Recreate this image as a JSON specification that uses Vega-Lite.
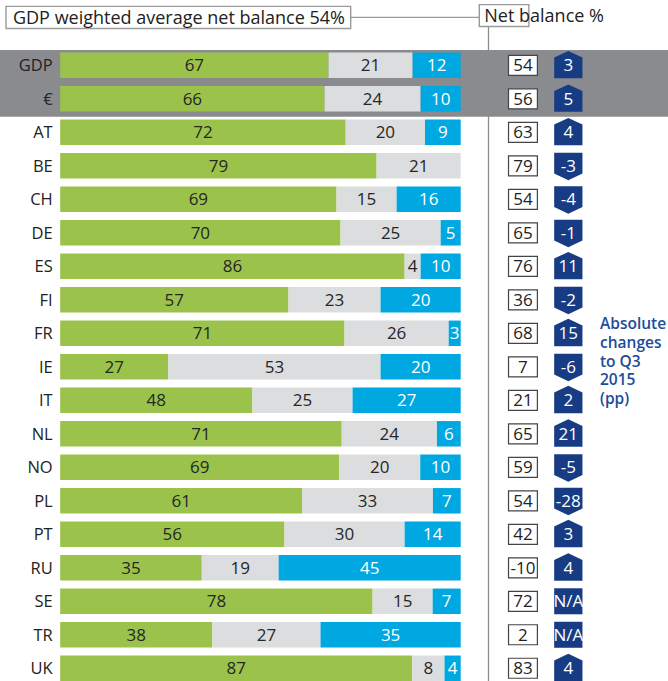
{
  "$schema": "https://vega.github.io/schema/vega-lite/v6.json",
  "width": 668,
  "height": 681,
  "padding": 0,
  "autosize": {"type": "none"},
  "background": "white",
  "config": {"view": {"stroke": null}, "font": "Open Sans"},
  "datasets": {
    "shares": [
      {"country": "GDP", "answer": "Up", "pct": 67}, {"country": "GDP", "answer": "Same", "pct": 21}, {"country": "GDP", "answer": "Down", "pct": 12},
      {"country": "€", "answer": "Up", "pct": 66}, {"country": "€", "answer": "Same", "pct": 24}, {"country": "€", "answer": "Down", "pct": 10},
      {"country": "AT", "answer": "Up", "pct": 72}, {"country": "AT", "answer": "Same", "pct": 20}, {"country": "AT", "answer": "Down", "pct": 9},
      {"country": "BE", "answer": "Up", "pct": 79}, {"country": "BE", "answer": "Same", "pct": 21},
      {"country": "CH", "answer": "Up", "pct": 69}, {"country": "CH", "answer": "Same", "pct": 15}, {"country": "CH", "answer": "Down", "pct": 16},
      {"country": "DE", "answer": "Up", "pct": 70}, {"country": "DE", "answer": "Same", "pct": 25}, {"country": "DE", "answer": "Down", "pct": 5},
      {"country": "ES", "answer": "Up", "pct": 86}, {"country": "ES", "answer": "Same", "pct": 4}, {"country": "ES", "answer": "Down", "pct": 10},
      {"country": "FI", "answer": "Up", "pct": 57}, {"country": "FI", "answer": "Same", "pct": 23}, {"country": "FI", "answer": "Down", "pct": 20},
      {"country": "FR", "answer": "Up", "pct": 71}, {"country": "FR", "answer": "Same", "pct": 26}, {"country": "FR", "answer": "Down", "pct": 3},
      {"country": "IE", "answer": "Up", "pct": 27}, {"country": "IE", "answer": "Same", "pct": 53}, {"country": "IE", "answer": "Down", "pct": 20},
      {"country": "IT", "answer": "Up", "pct": 48}, {"country": "IT", "answer": "Same", "pct": 25}, {"country": "IT", "answer": "Down", "pct": 27},
      {"country": "NL", "answer": "Up", "pct": 71}, {"country": "NL", "answer": "Same", "pct": 24}, {"country": "NL", "answer": "Down", "pct": 6},
      {"country": "NO", "answer": "Up", "pct": 69}, {"country": "NO", "answer": "Same", "pct": 20}, {"country": "NO", "answer": "Down", "pct": 10},
      {"country": "PL", "answer": "Up", "pct": 61}, {"country": "PL", "answer": "Same", "pct": 33}, {"country": "PL", "answer": "Down", "pct": 7},
      {"country": "PT", "answer": "Up", "pct": 56}, {"country": "PT", "answer": "Same", "pct": 30}, {"country": "PT", "answer": "Down", "pct": 14},
      {"country": "RU", "answer": "Up", "pct": 35}, {"country": "RU", "answer": "Same", "pct": 19}, {"country": "RU", "answer": "Down", "pct": 45},
      {"country": "SE", "answer": "Up", "pct": 78}, {"country": "SE", "answer": "Same", "pct": 15}, {"country": "SE", "answer": "Down", "pct": 7},
      {"country": "TR", "answer": "Up", "pct": 38}, {"country": "TR", "answer": "Same", "pct": 27}, {"country": "TR", "answer": "Down", "pct": 35},
      {"country": "UK", "answer": "Up", "pct": 87}, {"country": "UK", "answer": "Same", "pct": 8}, {"country": "UK", "answer": "Down", "pct": 4}
    ],
    "rows": [
      {"country": "GDP", "net": 54, "chg": "3", "dir": "up"},
      {"country": "€", "net": 56, "chg": "5", "dir": "up"},
      {"country": "AT", "net": 63, "chg": "4", "dir": "up"},
      {"country": "BE", "net": 79, "chg": "-3", "dir": "down"},
      {"country": "CH", "net": 54, "chg": "-4", "dir": "down"},
      {"country": "DE", "net": 65, "chg": "-1", "dir": "down"},
      {"country": "ES", "net": 76, "chg": "11", "dir": "up"},
      {"country": "FI", "net": 36, "chg": "-2", "dir": "down"},
      {"country": "FR", "net": 68, "chg": "15", "dir": "up"},
      {"country": "IE", "net": 7, "chg": "-6", "dir": "down"},
      {"country": "IT", "net": 21, "chg": "2", "dir": "up"},
      {"country": "NL", "net": 65, "chg": "21", "dir": "up"},
      {"country": "NO", "net": 59, "chg": "-5", "dir": "down"},
      {"country": "PL", "net": 54, "chg": "-28", "dir": "down"},
      {"country": "PT", "net": 42, "chg": "3", "dir": "up"},
      {"country": "RU", "net": -10, "chg": "4", "dir": "up"},
      {"country": "SE", "net": 72, "chg": "N/A", "dir": "na"},
      {"country": "TR", "net": 2, "chg": "N/A", "dir": "na"},
      {"country": "UK", "net": 83, "chg": "4", "dir": "up"}
    ]
  },
  "layer": [
    {
      "data": {"values": [{}]},
      "mark": {"type": "rect", "color": "#898B8E"},
      "encoding": {
        "x": {"datum": -0.1503, "type": "quantitative", "scale": {"domain": [-0.1503, 1.5176], "nice": false, "zero": false}, "axis": null},
        "x2": {"datum": 1.5176},
        "y": {"datum": "GDP", "type": "nominal", "bandPosition": -0.1, "scale": {"domain": ["header", "GDP", "€", "AT", "BE", "CH", "DE", "ES", "FI", "FR", "IE", "IT", "NL", "NO", "PL", "PT", "RU", "SE", "TR", "UK"], "paddingInner": 0.24, "paddingOuter": 0.285, "align": 1}, "axis": null},
        "y2": {"datum": "€", "bandPosition": 1.2}
      }
    },
    {
      "data": {"values": [{}]},
      "mark": {"type": "rule", "color": "#8C8C8C", "strokeWidth": 1.3},
      "encoding": {
        "x": {"datum": 1.0694, "type": "quantitative", "scale": {"domain": [-0.1503, 1.5176], "nice": false, "zero": false}, "axis": null},
        "y": {"datum": "header", "type": "nominal", "bandPosition": 0.27, "scale": {"domain": ["header", "GDP", "€", "AT", "BE", "CH", "DE", "ES", "FI", "FR", "IE", "IT", "NL", "NO", "PL", "PT", "RU", "SE", "TR", "UK"], "paddingInner": 0.24, "paddingOuter": 0.285, "align": 1}, "axis": null},
        "y2": {"datum": "UK", "bandPosition": 1.3}
      }
    },
    {
      "data": {"values": [{}]},
      "mark": {"type": "rule", "color": "#9A9A9A", "strokeWidth": 1.3},
      "encoding": {
        "x": {"datum": 0.7253, "type": "quantitative", "scale": {"domain": [-0.1503, 1.5176], "nice": false, "zero": false}, "axis": null},
        "x2": {"datum": 1.0464},
        "y": {"datum": "header", "type": "nominal", "bandPosition": -0.07, "scale": {"domain": ["header", "GDP", "€", "AT", "BE", "CH", "DE", "ES", "FI", "FR", "IE", "IT", "NL", "NO", "PL", "PT", "RU", "SE", "TR", "UK"], "paddingInner": 0.24, "paddingOuter": 0.285, "align": 1}, "axis": null}
      }
    },
    {
      "data": {"values": [{}]},
      "mark": {"type": "rect", "fill": "white", "stroke": "#9A9A9A", "strokeWidth": 1.4},
      "encoding": {
        "x": {"datum": -0.1353, "type": "quantitative", "scale": {"domain": [-0.1503, 1.5176], "nice": false, "zero": false}, "axis": null},
        "x2": {"datum": 0.7253},
        "y": {"datum": "header", "type": "nominal", "bandPosition": -0.5, "scale": {"domain": ["header", "GDP", "€", "AT", "BE", "CH", "DE", "ES", "FI", "FR", "IE", "IT", "NL", "NO", "PL", "PT", "RU", "SE", "TR", "UK"], "paddingInner": 0.24, "paddingOuter": 0.285, "align": 1}, "axis": null},
        "y2": {"datum": "header", "bandPosition": 0.37}
      }
    },
    {
      "data": {"values": [{}]},
      "mark": {"type": "rect", "fill": "white", "stroke": "#9A9A9A", "strokeWidth": 1.4},
      "encoding": {
        "x": {"datum": 1.0464, "type": "quantitative", "scale": {"domain": [-0.1503, 1.5176], "nice": false, "zero": false}, "axis": null},
        "x2": {"datum": 1.1703},
        "y": {"datum": "header", "type": "nominal", "bandPosition": -0.57, "scale": {"domain": ["header", "GDP", "€", "AT", "BE", "CH", "DE", "ES", "FI", "FR", "IE", "IT", "NL", "NO", "PL", "PT", "RU", "SE", "TR", "UK"], "paddingInner": 0.24, "paddingOuter": 0.285, "align": 1}, "axis": null},
        "y2": {"datum": "header", "bandPosition": 0.29}
      }
    },
    {
      "data": {"values": [{"label": "GDP weighted average net balance 54%"}]},
      "mark": {"type": "text", "align": "left", "baseline": "alphabetic", "fontSize": 18, "color": "#222222"},
      "encoding": {
        "x": {"datum": -0.1179, "type": "quantitative", "scale": {"domain": [-0.1503, 1.5176], "nice": false, "zero": false}, "axis": null},
        "y": {"datum": "header", "type": "nominal", "bandPosition": 0.2, "scale": {"domain": ["header", "GDP", "€", "AT", "BE", "CH", "DE", "ES", "FI", "FR", "IE", "IT", "NL", "NO", "PL", "PT", "RU", "SE", "TR", "UK"], "paddingInner": 0.24, "paddingOuter": 0.285, "align": 1}, "axis": null},
        "text": {"field": "label"}
      }
    },
    {
      "data": {"values": [{"label": "Net balance %"}]},
      "mark": {"type": "text", "align": "left", "baseline": "alphabetic", "fontSize": 18, "color": "#222222"},
      "encoding": {
        "x": {"datum": 1.0589, "type": "quantitative", "scale": {"domain": [-0.1503, 1.5176], "nice": false, "zero": false}, "axis": null},
        "y": {"datum": "header", "type": "nominal", "bandPosition": 0.1, "scale": {"domain": ["header", "GDP", "€", "AT", "BE", "CH", "DE", "ES", "FI", "FR", "IE", "IT", "NL", "NO", "PL", "PT", "RU", "SE", "TR", "UK"], "paddingInner": 0.24, "paddingOuter": 0.285, "align": 1}, "axis": null},
        "text": {"field": "label"}
      }
    },
    {
      "data": {"name": "shares"},
      "mark": {"type": "bar"},
      "encoding": {
        "x": {"field": "pct", "type": "quantitative", "stack": "normalize", "scale": {"domain": [-0.1503, 1.5176], "nice": false, "zero": false}, "axis": null},
        "y": {"field": "country", "type": "nominal", "scale": {"domain": ["header", "GDP", "€", "AT", "BE", "CH", "DE", "ES", "FI", "FR", "IE", "IT", "NL", "NO", "PL", "PT", "RU", "SE", "TR", "UK"], "paddingInner": 0.24, "paddingOuter": 0.285, "align": 1}, "axis": null},
        "color": {"field": "answer", "type": "nominal", "scale": {"domain": ["Up", "Same", "Down"], "range": ["#9BC34B", "#DCDDDE", "#00A8E1"]}, "legend": null},
        "order": {"field": "answer", "sort": "descending"}
      }
    },
    {
      "data": {"name": "shares"},
      "mark": {"type": "text", "fontSize": 17, "baseline": "middle", "dy": 1},
      "encoding": {
        "x": {"field": "pct", "type": "quantitative", "stack": "normalize", "bandPosition": 0.5, "scale": {"domain": [-0.1503, 1.5176], "nice": false, "zero": false}, "axis": null},
        "y": {"field": "country", "type": "nominal", "scale": {"domain": ["header", "GDP", "€", "AT", "BE", "CH", "DE", "ES", "FI", "FR", "IE", "IT", "NL", "NO", "PL", "PT", "RU", "SE", "TR", "UK"], "paddingInner": 0.24, "paddingOuter": 0.285, "align": 1}, "axis": null},
        "color": {"field": "answer", "type": "nominal", "scale": {"domain": ["Up", "Same", "Down"], "range": ["#262626", "#262626", "#FFFFFF"]}, "legend": null},
        "order": {"field": "answer", "sort": "descending"},
        "text": {"field": "pct"}
      }
    },
    {
      "data": {"name": "rows"},
      "mark": {"type": "text", "fontSize": 16.5, "align": "right", "baseline": "middle", "dy": 1, "color": "#222222"},
      "encoding": {
        "x": {"datum": -0.0187, "type": "quantitative", "scale": {"domain": [-0.1503, 1.5176], "nice": false, "zero": false}, "axis": null},
        "y": {"field": "country", "type": "nominal", "scale": {"domain": ["header", "GDP", "€", "AT", "BE", "CH", "DE", "ES", "FI", "FR", "IE", "IT", "NL", "NO", "PL", "PT", "RU", "SE", "TR", "UK"], "paddingInner": 0.24, "paddingOuter": 0.285, "align": 1}, "axis": null},
        "text": {"field": "country"}
      }
    },
    {
      "data": {"name": "rows"},
      "mark": {"type": "bar", "size": 20, "fill": "white", "stroke": "#444444", "strokeWidth": 1.2},
      "encoding": {
        "x": {"datum": 1.1194, "type": "quantitative", "scale": {"domain": [-0.1503, 1.5176], "nice": false, "zero": false}, "axis": null},
        "x2": {"datum": 1.1915},
        "y": {"field": "country", "type": "nominal", "scale": {"domain": ["header", "GDP", "€", "AT", "BE", "CH", "DE", "ES", "FI", "FR", "IE", "IT", "NL", "NO", "PL", "PT", "RU", "SE", "TR", "UK"], "paddingInner": 0.24, "paddingOuter": 0.285, "align": 1}, "axis": null}
      }
    },
    {
      "data": {"name": "rows"},
      "mark": {"type": "text", "fontSize": 17, "align": "center", "baseline": "middle", "dy": 1, "color": "#222222"},
      "encoding": {
        "x": {"datum": 1.1554, "type": "quantitative", "scale": {"domain": [-0.1503, 1.5176], "nice": false, "zero": false}, "axis": null},
        "y": {"field": "country", "type": "nominal", "scale": {"domain": ["header", "GDP", "€", "AT", "BE", "CH", "DE", "ES", "FI", "FR", "IE", "IT", "NL", "NO", "PL", "PT", "RU", "SE", "TR", "UK"], "paddingInner": 0.24, "paddingOuter": 0.285, "align": 1}, "axis": null},
        "text": {"field": "net"}
      }
    },
    {
      "data": {"name": "rows"},
      "mark": {"type": "point", "filled": true, "size": 800, "opacity": 1, "color": "#173C84", "strokeWidth": 0},
      "encoding": {
        "x": {"datum": 1.2687, "type": "quantitative", "scale": {"domain": [-0.1503, 1.5176], "nice": false, "zero": false}, "axis": null},
        "y": {"field": "country", "type": "nominal", "scale": {"domain": ["header", "GDP", "€", "AT", "BE", "CH", "DE", "ES", "FI", "FR", "IE", "IT", "NL", "NO", "PL", "PT", "RU", "SE", "TR", "UK"], "paddingInner": 0.24, "paddingOuter": 0.285, "align": 1}, "axis": null},
        "shape": {"field": "dir", "type": "nominal", "scale": {"domain": ["up", "down", "na"], "range": ["M-1,0.92L1,0.92L1,-0.55L0,-1.02L-1,-0.55Z", "M-1,-0.92L1,-0.92L1,0.55L0,1.02L-1,0.55Z", "M-1,-0.92L1,-0.92L1,0.92L-1,0.92Z"]}, "legend": null}
      }
    },
    {
      "data": {"name": "rows"},
      "mark": {"type": "text", "fontSize": 17, "align": "center", "baseline": "middle", "dy": 1, "color": "#FFFFFF"},
      "encoding": {
        "x": {"datum": 1.2687, "type": "quantitative", "scale": {"domain": [-0.1503, 1.5176], "nice": false, "zero": false}, "axis": null},
        "y": {"field": "country", "type": "nominal", "scale": {"domain": ["header", "GDP", "€", "AT", "BE", "CH", "DE", "ES", "FI", "FR", "IE", "IT", "NL", "NO", "PL", "PT", "RU", "SE", "TR", "UK"], "paddingInner": 0.24, "paddingOuter": 0.285, "align": 1}, "axis": null},
        "text": {"field": "chg"}
      }
    },
    {
      "data": {"values": [{"note": ["Absolute", "changes", "to Q3", "2015", "(pp)"]}]},
      "mark": {"type": "text", "fontSize": 15.5, "align": "left", "baseline": "alphabetic", "lineHeight": 18.7, "color": "#1D4C9A", "fontWeight": 600},
      "encoding": {
        "x": {"datum": 1.3478, "type": "quantitative", "scale": {"domain": [-0.1503, 1.5176], "nice": false, "zero": false}, "axis": null},
        "y": {"datum": "FR", "type": "nominal", "bandPosition": 0.34, "scale": {"domain": ["header", "GDP", "€", "AT", "BE", "CH", "DE", "ES", "FI", "FR", "IE", "IT", "NL", "NO", "PL", "PT", "RU", "SE", "TR", "UK"], "paddingInner": 0.24, "paddingOuter": 0.285, "align": 1}, "axis": null},
        "text": {"field": "note"}
      }
    }
  ],
  "resolve": {"scale": {"color": "independent"}}
}
